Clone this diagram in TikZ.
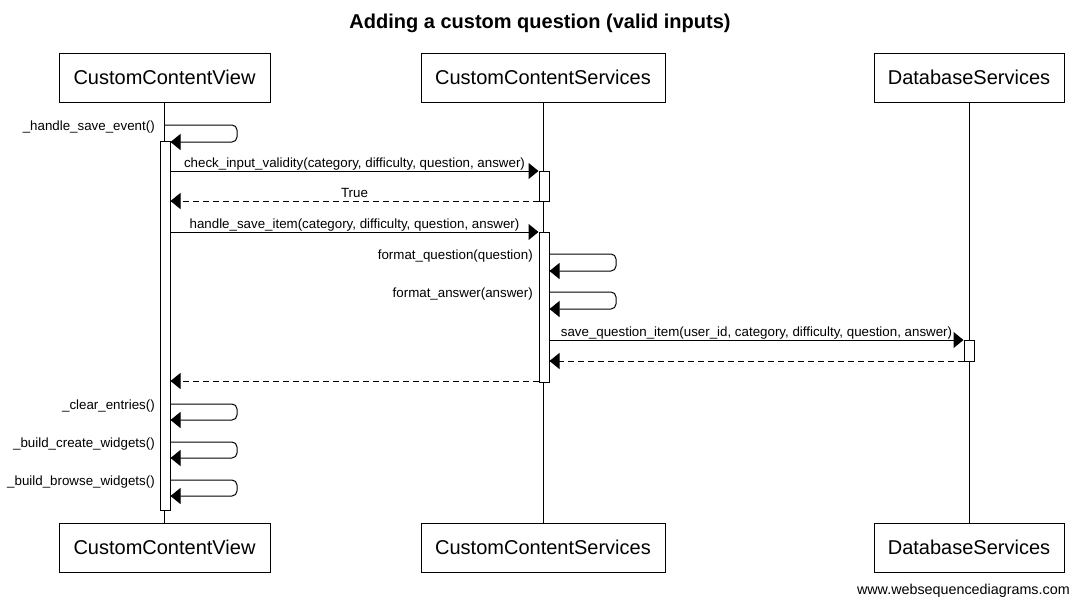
\documentclass[tikz,border=0pt]{standalone}
\usepackage{fontspec}
\setmainfont{Liberation Sans}
\usetikzlibrary{arrows.meta}
\begin{document}
\begin{tikzpicture}[x=0.75pt,y=-0.75pt,
  part/.style={draw,line width=0.75pt,fill=white,font=\fontsize{15}{18}\selectfont,inner sep=0pt},
  act/.style={draw,fill=white,line width=0.75pt,minimum width=7.5pt,inner sep=0pt},
  msg/.style={line width=0.75pt,-{Triangle[length=7.5pt,width=12pt]}},
  ret/.style={msg,dash pattern=on 4.5pt off 3pt},
  selfmsg/.style={msg,rounded corners=3.75pt},
  lbl/.style={font=\fontsize{10}{12}\selectfont,inner sep=0pt,anchor=base},
  slbl/.style={font=\fontsize{10}{12}\selectfont,inner sep=0pt,anchor=base east},
  life/.style={line width=0.75pt}]
\useasboundingbox (0,0) rectangle (1079,607);

\node[font=\bfseries\fontsize{15}{18}\selectfont] (title) at (540,23) {Adding a custom question (valid inputs)};

% participants
\node[part,minimum width=158.25pt,minimum height=36.75pt] (v1) at (164.5,77.5) {CustomContentView};
\node[part,minimum width=183pt,minimum height=36.75pt] (s1) at (543,77.5) {CustomContentServices};
\node[part,minimum width=142.5pt,minimum height=36.75pt] (d1) at (969,77.5) {DatabaseServices};
\node[part,minimum width=158.25pt,minimum height=36.75pt] (v2) at (164.5,547.5) {CustomContentView};
\node[part,minimum width=183pt,minimum height=36.75pt] (s2) at (543,547.5) {CustomContentServices};
\node[part,minimum width=142.5pt,minimum height=36.75pt] (d2) at (969,547.5) {DatabaseServices};

% lifelines
\draw[life] (v1.south) -- (v2.north);
\draw[life] (s1.south) -- (s2.north);
\draw[life] (d1.south) -- (d2.north);

% activations
\node[act,minimum height=276.75pt] (av) at (165,325.5) {};
\node[act,minimum height=22.5pt] (as1) at (544,186) {};
\node[act,minimum height=112.5pt] (as2) at (544,307) {};
\node[act,minimum height=15.75pt] (ad) at (969,350.5) {};

% _handle_save_event()
\coordinate (l1r) at (237,125);
\draw[selfmsg] (v1.south |- l1r) -- (l1r) -- (237,142) -- (av.east |- 0,142);
\node[slbl] (t1) at (155,130) {\_handle\_save\_event()};

% check_input_validity
\draw[msg] (av.east |- 0,171) -- (as1.west |- 0,171);
\node[lbl] (t2) at (354.5,167) {check\_input\_validity(category, difficulty, question, answer)};

% True
\draw[ret] (as1.west |- 0,201) -- (av.east |- 0,201);
\node[lbl] (t3) at (354.5,197) {True};

% handle_save_item
\draw[msg] (av.east |- 0,232) -- (as2.west |- 0,232);
\node[lbl] (t4) at (354.5,228) {handle\_save\_item(category, difficulty, question, answer)};

% format_question
\draw[selfmsg] (as2.east |- 0,254) -- (616,254) -- (616,271) -- (as2.east |- 0,271);
\node[slbl] (t5) at (533,259) {format\_question(question)};

% format_answer
\draw[selfmsg] (as2.east |- 0,292) -- (616,292) -- (616,309) -- (as2.east |- 0,309);
\node[slbl] (t6) at (533,297) {format\_answer(answer)};

% save_question_item
\draw[msg] (as2.east |- 0,340) -- (ad.west |- 0,340);
\node[lbl] (t7) at (756.5,336) {save\_question\_item(user\_id, category, difficulty, question, answer)};

% returns
\draw[ret] (ad.west |- 0,361) -- (as2.east |- 0,361);
\draw[ret] (as2.west |- 0,381) -- (av.east |- 0,381);

% _clear_entries()
\draw[selfmsg] (av.east |- 0,404) -- (237,404) -- (237,420) -- (av.east |- 0,420);
\node[slbl] (t8) at (155,409) {\_clear\_entries()};

% _build_create_widgets()
\draw[selfmsg] (av.east |- 0,442) -- (237,442) -- (237,458) -- (av.east |- 0,458);
\node[slbl] (t9) at (155,447) {\_build\_create\_widgets()};

% _build_browse_widgets()
\draw[selfmsg] (av.east |- 0,480) -- (237,480) -- (237,496) -- (av.east |- 0,496);
\node[slbl] (t10) at (155,485) {\_build\_browse\_widgets()};

\node[font=\fontsize{10.75}{12}\selectfont,inner sep=0pt,anchor=east] (web) at (1070,591) {www.websequencediagrams.com};
\end{tikzpicture}
\end{document}
